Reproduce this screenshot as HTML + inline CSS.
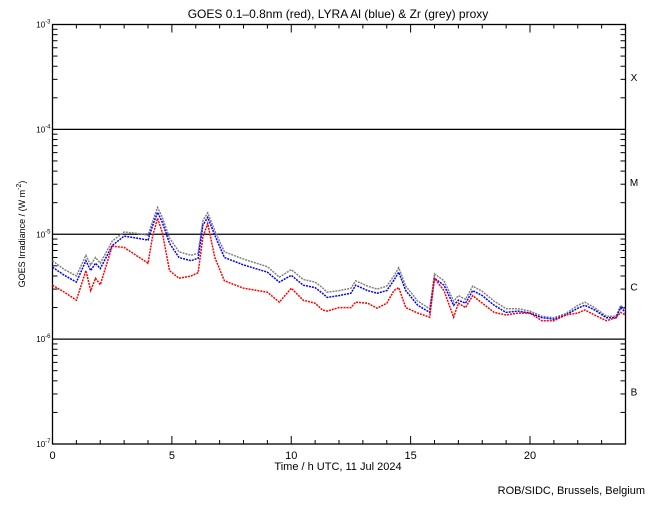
<!DOCTYPE html>
<html><head><meta charset="utf-8"><style>
body{margin:0;background:#fff;width:650px;height:500px;overflow:hidden}
svg text{font-family:"Liberation Sans",sans-serif;fill:#000}
</style></head><body>
<svg id="chart" width="650" height="500" xmlns="http://www.w3.org/2000/svg">
<text x="338" y="18" font-size="12" text-anchor="middle">GOES 0.1–0.8nm (red), LYRA Al (blue) &amp; Zr (grey) proxy</text>
<g id="axes"></g>
<g id="series"></g>
<text x="338" y="470" font-size="11" text-anchor="middle">Time / h UTC, 11 Jul 2024</text>
<text x="25" y="234" font-size="9" text-anchor="middle" transform="rotate(-90 25 234)">GOES Irradiance / (W m<tspan dy="-4" font-size="7">-2</tspan><tspan dy="4">)</tspan></text>
<text x="645" y="494" font-size="11" text-anchor="end">ROB/SIDC, Brussels, Belgium</text>
</svg>
<script>
const hours=[0,0.5,1,1.4,1.6,1.8,2,2.5,3,3.5,4,4.2,4.4,4.6,4.9,5.3,5.8,6.1,6.3,6.5,6.8,7.2,8,9,9.5,10,10.5,11,11.3,11.5,12,12.5,12.7,13.2,13.6,14,14.3,14.5,14.8,15.3,15.8,16,16.4,16.8,17,17.3,17.6,18,18.5,19,19.5,20,20.5,21,21.5,22,22.3,22.7,23.2,23.6,23.8,24];
// values in units of 1e-6 W m^-2
const goesRed=[3.27,2.8,2.35,4.5,2.9,3.8,3.3,7.7,7.5,6.3,5.3,9.8,14.2,10.4,4.5,3.8,4.0,4.3,9.4,12.7,6.0,3.6,3.06,2.8,2.25,3.06,2.35,2.2,1.9,1.85,2.0,2.0,2.25,2.2,1.97,2.2,2.9,3.1,2.0,1.77,1.62,3.8,2.9,1.62,2.2,2.0,2.6,2.2,1.8,1.7,1.77,1.77,1.5,1.5,1.7,1.77,1.9,1.7,1.5,1.6,1.8,1.7];
const lyraAl=[4.85,4.06,3.5,5.6,4.5,5.3,4.7,7.8,9.6,9.2,8.8,12.2,16.2,13,8.2,6.0,5.6,5.9,12.2,14.5,9.8,6.0,5.1,4.35,3.5,4.06,3.27,3.1,2.74,2.5,2.6,2.74,3.27,2.9,2.74,2.9,3.65,4.35,2.9,2.1,1.8,3.8,3.27,2.1,2.35,2.2,2.9,2.6,2.1,1.8,1.85,1.77,1.6,1.55,1.7,1.97,2.1,1.9,1.6,1.6,2.0,1.8];
const lyraZr=[5.6,4.6,4.0,6.3,5.1,6.0,5.3,8.6,10.5,10.2,9.8,13.5,18,14.5,9.2,6.8,6.3,6.6,13.5,16,10.8,6.8,5.8,4.9,3.9,4.6,3.7,3.5,3.1,2.8,2.9,3.05,3.6,3.2,3.0,3.2,4.0,4.8,3.2,2.3,1.95,4.2,3.6,2.3,2.6,2.4,3.2,2.85,2.3,1.95,1.95,1.85,1.65,1.6,1.75,2.1,2.25,2.0,1.65,1.65,2.1,1.9];
const xTickLabels=[0,5,10,15,20];
const yExponents=[-3,-4,-5,-6,-7];
const flareClasses=["X","M","C","B"];

const L=52.5,R=625.5,T=24.5,B=444;
const xs=h=>L+(R-L)*h/24;
const ys=v=>{const lg=Math.log10(v*1e-6);return T+(-3-lg)*(B-T)/4;};
const NS="http://www.w3.org/2000/svg";
function mk(tag,attrs,parent){const e=document.createElementNS(NS,tag);for(const k in attrs)e.setAttribute(k,attrs[k]);parent.appendChild(e);return e;}
const ax=document.getElementById('axes');
const frame=mk('rect',{x:L,y:T,width:R-L,height:B-T,fill:'none',stroke:'#000','stroke-width':1.3},ax);


// x ticks
for(let h=0;h<=24;h++){
  const major=h%5===0, len=major?8:4, x=xs(h);
  mk('line',{x1:x,x2:x,y1:B,y2:B-len,stroke:'#000'},ax);
  mk('line',{x1:x,x2:x,y1:T,y2:T+len,stroke:'#000'},ax);
}
xTickLabels.forEach(h=>{
  const t=mk('text',{x:xs(h),y:B+15,'font-size':11,'text-anchor':'middle'},ax);
  t.textContent=h;
  
  
});
// y ticks and labels
yExponents.forEach((e,i)=>{
  const y=ys(Math.pow(10,e+6));
  const t=mk('text',{x:L-2,y:y+3,'font-size':8,'text-anchor':'end'},ax);
  t.innerHTML='10<tspan dy="-4" font-size="6">'+e+'</tspan>';
  
  
  if(e>-7){
    for(let m=2;m<=9;m++){const yy=ys(m*Math.pow(10,e+5));
      mk('line',{x1:L,x2:L+5,y1:yy,y2:yy,stroke:'#000'},ax);
      mk('line',{x1:R,x2:R-5,y1:yy,y2:yy,stroke:'#000'},ax);}
  }
  if(e<-3&&e>-7){const gl=mk('line',{x1:L,x2:R,y1:y,y2:y,stroke:'#000','stroke-width':1.3},ax);
    
    }
});
flareClasses.forEach((c,i)=>{
  const y=(ys(Math.pow(10,3-i))+ys(Math.pow(10,2-i)))/2;
  const t=mk('text',{x:634,y:y+4,'font-size':10,'text-anchor':'middle'},ax);
  t.textContent=c;
  
  
});
const sg=document.getElementById('series');
[[lyraZr,'#808080','lyra-zr-series'],[lyraAl,'#0000ff','lyra-al-series'],[goesRed,'#ff0000','goes-series']].forEach(([arr,col,name])=>{
  const pts=hours.map((h,i)=>xs(h).toFixed(1)+','+ys(arr[i]).toFixed(1)).join(' ');
  const p=mk('polyline',{points:pts,fill:'none',stroke:col,'stroke-width':1.5,'stroke-dasharray':'2 1'},sg);
  
  
});
</script>
</body></html>
